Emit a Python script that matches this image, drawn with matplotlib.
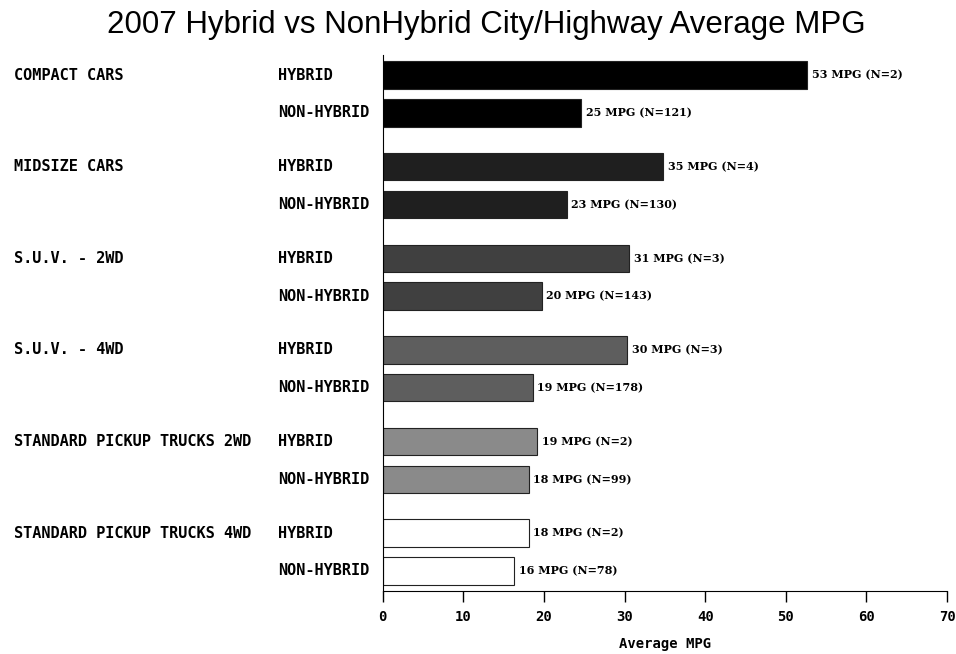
import matplotlib
matplotlib.use('Agg')
import numpy as np
import matplotlib.pyplot as plt

# data
categories = ['COMPACT CARS', 'MIDSIZE CARS', 'S.U.V. - 2WD', 'S.U.V. - 4WD',
              'STANDARD PICKUP TRUCKS 2WD', 'STANDARD PICKUP TRUCKS 4WD']
subgroups = ['HYBRID', 'NON-HYBRID']
hybrid_mpg = [52.6, 34.8, 30.6, 30.3, 19.1, 18.1]
nonhybrid_mpg = [24.6, 22.8, 19.7, 18.6, 18.1, 16.3]
hybrid_labels = ['53 MPG (N=2)', '35 MPG (N=4)', '31 MPG (N=3)',
                 '30 MPG (N=3)', '19 MPG (N=2)', '18 MPG (N=2)']
nonhybrid_labels = ['25 MPG (N=121)', '23 MPG (N=130)', '20 MPG (N=143)',
                    '19 MPG (N=178)', '18 MPG (N=99)', '16 MPG (N=78)']
colors = ['#000000', '#1f1f1f', '#404040', '#5e5e5e', '#8a8a8a', '#ffffff']

group_step = 92 / 38.0
bar_h = 0.72

W, H = 956, 654
ax_l, ax_r, ax_t, ax_b = 382.7, 947, 55, 591
fig = plt.figure(figsize=(W / 100, H / 100), dpi=100)
ax = fig.add_axes([ax_l / W, 1 - ax_b / H, (ax_r - ax_l) / W, (ax_b - ax_t) / H])

mono = 'DejaVu Sans Mono'
cat_x = (14 - ax_l) / (ax_r - ax_l)
sub_x = (278 - ax_l) / (ax_r - ax_l)
for g in range(len(categories)):
    y_h = g * group_step
    y_n = g * group_step + 1
    for y, v, lab in [(y_h, hybrid_mpg[g], hybrid_labels[g]),
                      (y_n, nonhybrid_mpg[g], nonhybrid_labels[g])]:
        ax.barh(y, v, height=bar_h, color=colors[g], edgecolor='#222222', linewidth=0.8)
        ax.text(v + 0.6, y, lab, va='center', ha='left', fontsize=8,
                family='DejaVu Serif', fontweight='bold')
    ax.text(cat_x, y_h, categories[g], transform=ax.get_yaxis_transform(),
            va='center', ha='left', family=mono, fontweight='bold', fontsize=11)
    for y, s in [(y_h, subgroups[0]), (y_n, subgroups[1])]:
        ax.text(sub_x, y, s, transform=ax.get_yaxis_transform(),
                va='center', ha='left', family=mono, fontweight='bold', fontsize=11)

ax.set_xlim(0, 70)
last = (len(categories) - 1) * group_step + 1
ax.set_ylim(last + 0.53, -0.53)
ax.set_yticks([])
ax.set_xticks(np.arange(0, 71, 10))
ax.tick_params(axis='x', direction='out', length=8, width=1, pad=6)
for t in ax.get_xticklabels():
    t.set_family(mono)
    t.set_fontweight('bold')
    t.set_fontsize(10)
ax.set_xlabel('Average MPG', family=mono, fontweight='bold', fontsize=10, labelpad=9)
ax.spines['top'].set_visible(False)
ax.spines['right'].set_visible(False)

fig.suptitle('2007 Hybrid vs NonHybrid City/Highway Average MPG',
             family='Liberation Sans', fontsize=22.5, x=0.5 + 8 / W, y=0.985)

fig.savefig('out.png', dpi=100)
